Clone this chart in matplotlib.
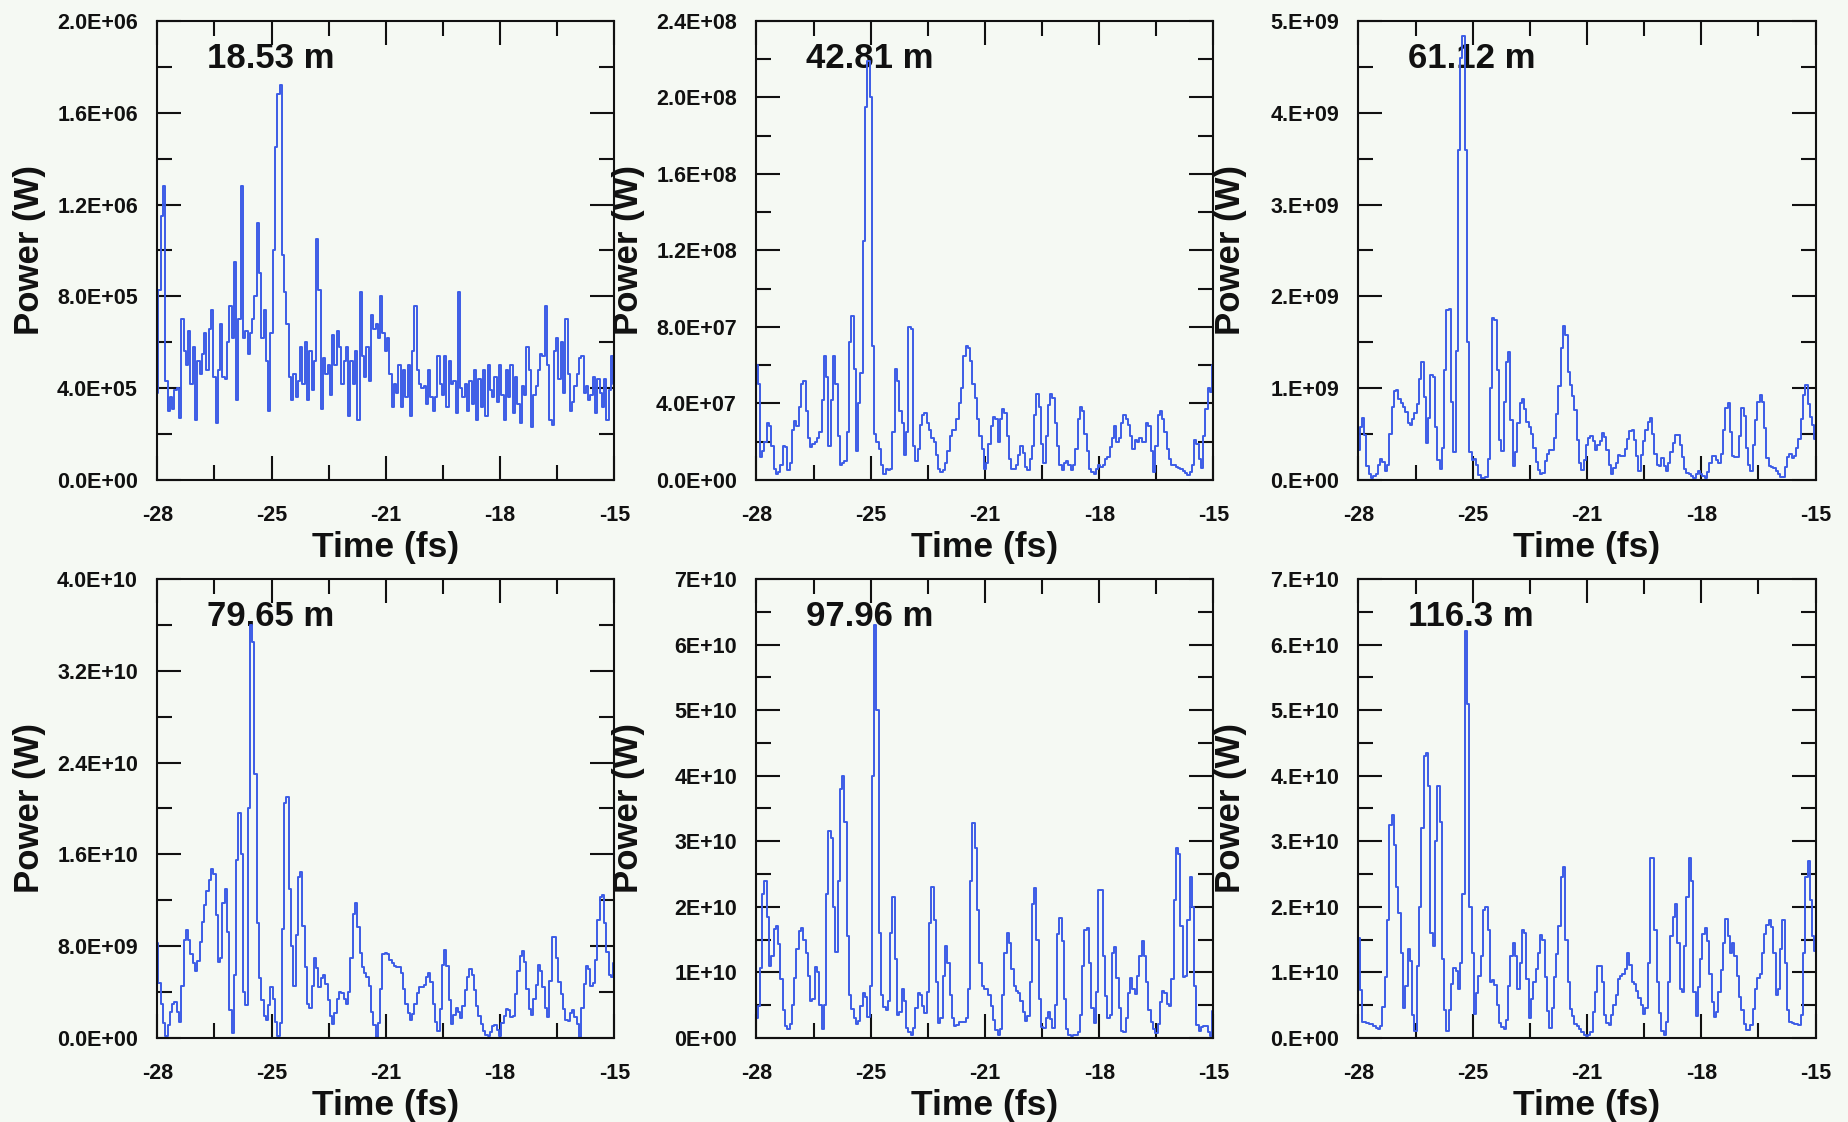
import numpy as np
import matplotlib
matplotlib.use("Agg")
import matplotlib.pyplot as plt

plt.rcParams['font.family'] = ['Liberation Sans', 'DejaVu Sans']
plt.rcParams['font.weight'] = 'bold'

bg = '#f5f9f3'
blue = '#3c5ce6'

# common time axis of the traces (fs)
t = np.linspace(-28, -15, 201)

# power traces (W), one per undulator distance
p_1853 = np.array([
    3.8, 8.3, 11.5, 12.8, 4.3, 3.0, 3.6, 3.1, 3.9, 4.0, 2.7, 7.0, 5.6,
    5.0, 6.5, 4.2, 5.8, 2.6, 5.2, 4.6, 5.5, 6.4, 4.8, 6.6, 7.4, 4.5, 2.5, 4.8, 6.8,
    4.5, 4.4, 6.0, 7.6, 6.2, 9.5, 3.5, 7.0, 12.8, 6.2, 6.5, 5.5, 6.4, 7.0, 8.0,
    11.2, 9.0, 6.2, 7.4, 5.2, 3.0, 6.4, 10.0, 14.5, 16.8, 17.2, 9.8, 8.2,
    6.8, 4.5, 3.5, 4.6, 3.6, 4.3, 5.8, 4.2, 6.0, 3.5, 5.6, 3.9, 5.2, 10.5, 8.3, 3.1, 5.3,
    4.6, 5.0, 3.7, 6.3, 5.0, 6.5, 5.8, 4.2, 5.2, 5.8, 2.8, 5.2, 4.2, 5.6, 2.6, 8.2,
    5.4, 4.5, 5.8, 4.3, 7.2, 6.6, 6.8, 6.2, 8.0, 6.4, 5.6, 6.2, 4.6,
    3.2, 4.2, 3.8, 5.0, 3.2, 4.8, 3.6, 5.0, 2.8, 5.6, 7.6, 4.8, 4.2, 4.0, 4.1, 3.3,
    4.8, 3.6, 3.0, 3.6, 5.4, 4.2, 3.7, 5.4, 3.2, 5.2, 4.2, 4.3, 2.9, 8.2, 4.0, 3.6, 4.2,
    3.0, 4.3, 3.3, 4.8, 2.6, 4.4, 3.2, 4.8, 2.8, 5.0, 3.9, 3.6, 4.5, 3.4, 5.0, 3.7,
    2.6, 4.8, 3.6, 5.0, 2.9, 4.5, 3.3, 2.5, 4.1, 3.7, 5.8, 4.8, 2.3, 3.7, 4.1, 4.8,
    5.5, 5.4, 7.6, 5.0,
    2.6, 2.4, 5.6, 6.2, 4.4, 6.0, 3.8, 7.0, 4.6, 3.0, 3.4, 4.1, 4.6, 5.3, 5.4, 3.8,
    4.1, 3.5, 3.7, 4.5, 2.9, 4.4, 3.8, 3.2, 4.4, 2.6, 3.9, 5.4, 4.2]) * 1e5

p_4281 = np.array([
    6.0, 5.0, 1.2, 1.5, 2.0, 3.0, 2.8, 1.8, 0.6, 0.3,
    0.4, 0.8, 1.8, 1.7, 0.5, 0.9, 2.6, 3.1, 2.8, 3.8,
    5.0, 5.2, 3.6, 2.2, 1.7, 1.9, 2.0, 2.2, 2.5, 4.2,
    6.5, 5.4, 1.8, 4.2, 6.5, 5.0, 2.3, 0.8, 0.9, 1.0,
    2.5, 7.2, 8.6, 5.8, 1.5, 4.0, 5.6, 12.5, 19.5, 21.9,
    20.0, 7.0, 2.4, 2.0, 1.6, 0.8, 0.3, 0.6, 0.5, 0.6,
    2.5, 5.8, 5.2, 3.6, 3.0, 1.3, 2.5, 8.0, 7.9, 1.8,
    1.0, 1.6, 2.9, 3.4, 3.5, 3.0, 2.6, 2.2, 2.0, 1.3,
    0.6, 0.4, 0.5, 0.9, 1.5, 2.3, 2.6, 2.6, 3.2, 4.0,
    4.8, 6.5, 7.0, 6.9, 6.2, 5.0, 4.3, 3.2, 2.3, 1.6,
    0.6, 0.9, 1.9, 2.8, 3.3, 3.2, 2.0, 3.2, 3.7, 3.5,
    2.3, 1.1, 0.6, 0.6, 0.8, 1.3, 1.8, 1.4, 0.7, 0.5,
    1.1, 1.8, 3.4, 4.5, 3.8, 1.9, 0.9, 2.3, 3.9, 4.5,
    4.3, 3.0, 1.8, 0.8, 0.5, 0.9, 1.0, 0.8, 0.5, 0.8,
    1.6, 3.2, 3.8, 3.6, 2.4, 1.5, 0.6, 0.4, 0.3, 0.6,
    0.8, 0.7, 0.8, 1.1, 1.2, 1.7, 2.2, 2.8, 2.0, 2.2,
    3.0, 3.4, 3.2, 2.9, 2.3, 1.6, 2.1, 2.0, 2.2, 2.0,
    2.0, 3.0, 2.8, 1.5, 0.4, 1.8, 3.4, 3.6, 3.2, 2.5,
    1.6, 1.1, 0.8, 0.8, 0.7, 0.65, 0.55, 0.45, 0.35, 0.28,
    0.4, 0.8, 2.1, 1.9, 1.1, 0.65, 2.3, 3.7, 4.8, 4.6,
    6.0]) * 1e7

p_6112 = np.array([
    3.3, 5.8, 6.7, 4.9, 1.5, 0.6, 0.2, 0.4, 0.7, 1.6,
    2.3, 2.0, 1.0, 1.6, 5.0, 7.9, 9.7, 9.8, 8.8, 8.4,
    8.0, 7.4, 6.2, 6.0, 6.6, 7.3, 8.3, 11.0, 12.8, 9.0,
    4.0, 6.8, 11.4, 11.2, 5.8, 2.2, 1.2, 3.5, 12.0, 18.5,
    18.6, 8.5, 3.0, 14.0, 36.0, 46.0, 48.4, 36.0, 15.0, 3.0,
    2.2, 2.3, 1.6, 0.5, 0.2, 0.2, 0.3, 2.3, 10.0, 17.6,
    17.4, 12.0, 4.4, 3.2, 8.5, 12.8, 13.9, 6.5, 1.5, 3.0,
    6.2, 8.4, 8.8, 7.7, 6.3, 5.8, 5.0, 3.5, 2.0, 1.1,
    0.6, 0.8, 2.1, 2.8, 3.3, 3.3, 4.6, 7.2, 10.2, 14.4,
    16.8, 15.8, 11.8, 10.4, 9.1, 7.6, 4.4, 1.8, 1.1, 2.2,
    3.8, 4.6, 4.8, 4.2, 3.3, 3.8, 4.2, 5.1, 4.7, 3.3,
    1.6, 0.6, 1.3, 1.9, 2.7, 2.6, 2.6, 3.4, 4.5, 5.3,
    5.5, 4.4, 2.6, 1.0, 2.7, 4.2, 5.4, 6.3, 6.8, 5.0,
    2.8, 1.6, 1.5, 2.4, 1.5, 1.0, 1.8, 3.0, 4.0, 4.9,
    4.9, 3.8, 2.5, 1.2, 0.8, 0.6, 0.4, 0.2, 0.6, 1.0,
    0.7, 0.4, 0.2, 0.9, 1.8, 2.6, 2.6, 2.2, 1.8, 2.8,
    5.5, 7.8, 8.4, 5.2, 2.6, 2.5, 2.5, 4.8, 7.8, 7.0,
    3.5, 1.6, 1.0, 3.8, 6.5, 8.5, 9.3, 8.5, 5.7, 2.4,
    1.5, 1.4, 1.3, 1.0, 0.6, 0.3, 0.3, 1.4, 2.5, 2.8,
    2.4, 2.6, 3.5, 4.5, 6.6, 9.3, 10.3, 8.3, 6.9, 6.0,
    4.5]) * 1e8

p_7965 = np.array([
    8.3, 4.8, 3.0, 1.3, 0.2, 1.1, 2.3, 3.0, 3.1, 2.3,
    1.4, 4.5, 8.5, 9.4, 8.5, 7.3, 6.5, 5.8, 6.7, 8.4,
    10.1, 11.6, 12.8, 13.8, 14.7, 14.3, 10.7, 6.6, 7.0, 11.8,
    13.0, 9.2, 2.4, 0.4, 5.5, 15.5, 19.6, 16.0, 4.0, 2.9,
    20.0, 36.0, 34.5, 23.0, 10.0, 5.2, 3.3, 1.9, 1.6, 2.9,
    4.4, 3.4, 1.4, 0.2, 1.3, 9.5, 20.5, 21.0, 13.0, 8.0,
    4.5, 9.0, 14.0, 14.5, 9.8, 6.2, 3.0, 2.6, 4.5, 7.0,
    6.1, 4.4, 5.2, 5.5, 4.7, 3.3, 1.9, 1.2, 2.2, 3.4,
    4.0, 3.9, 3.4, 3.0, 4.0, 7.0, 10.8, 11.8, 9.7, 7.4,
    6.2, 5.7, 5.3, 4.5, 2.3, 1.1, 0.1, 1.3, 4.3, 7.3,
    7.4,
    7.3, 6.8, 6.5, 6.3, 6.2, 6.2, 5.7, 4.3, 3.0, 2.2,
    1.6, 2.1, 3.0, 3.9, 4.4, 4.4, 4.6, 5.3, 5.7, 4.9,
    3.0, 1.4, 0.6, 2.5, 6.4, 7.7, 6.3, 3.3, 1.2, 2.0,
    2.6, 2.3, 1.7, 2.8, 4.2, 5.3, 6.0, 5.5, 4.2, 2.8,
    1.9, 1.2, 0.6, 0.3, 0.2, 0.5, 1.0, 1.1, 0.7, 0.2,
    1.3, 1.9, 2.5, 2.4, 1.8, 1.9, 3.8, 5.8, 7.1, 7.6,
    6.6, 4.3, 2.5, 2.0, 3.4, 4.6, 6.4, 5.8, 4.4, 2.6,
    1.8, 5.0, 8.8, 8.8, 7.0, 4.9, 3.8, 2.5, 1.6, 1.5,
    2.2, 2.4, 1.8, 1.2, 0.1, 2.6, 4.7, 6.3, 6.0, 4.5,
    4.8, 6.8, 10.3, 12.3, 12.5, 10.0, 7.5, 5.5, 5.3, 6.5]) * 1e9

p_9796 = np.array([
    3.1, 4.8, 10.7, 21.9, 23.9, 18.5, 11.0, 12.5, 16.6, 17.0,
    14.3, 9.0, 4.3, 1.8, 1.4, 2.2, 5.0, 9.2, 13.5, 16.3,
    16.8, 15.0, 12.9, 9.5, 5.7, 6.0, 10.8, 10.0, 5.0, 1.4,
    5.0, 22.0, 31.5, 30.5, 20.0, 13.1, 24.0, 38.0, 40.0, 33.0,
    15.5, 6.5, 4.4, 3.0, 2.2, 2.6, 4.8, 6.8, 6.3, 3.2,
    8.0, 40.0, 63.0, 50.0, 16.0, 6.5, 4.7, 4.2, 5.6, 16.0,
    21.5, 12.0, 3.5, 3.9, 7.4, 5.6, 1.5, 0.9, 0.5, 1.5,
    4.5, 6.9, 6.6, 4.9, 3.8, 7.0, 17.5, 23.0, 18.0, 8.5,
    2.3, 3.0, 9.5, 14.0, 11.5, 6.6, 3.1, 1.8, 2.0, 2.5,
    2.4, 2.4, 3.0, 7.5, 24.0, 32.8, 29.0, 19.5, 11.5, 8.0,
    7.4,
    7.4, 6.6, 4.9, 2.8, 1.2, 0.5, 1.4, 6.6, 13.0, 16.0,
    14.5, 10.5, 7.9, 7.2, 6.8, 5.6, 3.9, 2.6, 3.4, 8.5,
    20.5, 22.8, 15.0, 6.0, 1.7, 1.5, 3.0, 3.9, 2.9, 1.5,
    5.0, 15.8, 18.3, 14.8, 6.0, 1.3, 0.4, 0.3, 0.4, 0.5,
    0.9, 3.5, 11.0, 16.5, 16.8, 11.5, 4.6, 2.3, 7.0, 22.5,
    22.5, 12.5, 6.4, 3.1, 3.5, 13.0, 13.8, 9.2, 4.6, 1.0,
    0.9, 3.0, 6.8, 9.2, 7.5, 6.7, 9.5, 12.5, 14.8, 12.5,
    8.5, 4.3, 2.4, 1.3, 0.8, 2.1, 5.5, 7.2, 6.8, 5.2,
    4.9, 9.0, 21.0, 29.0, 28.0, 17.0, 9.3, 9.5, 18.0, 24.5,
    20.0, 8.0, 2.0, 1.0, 1.7, 1.9, 1.8, 0.9, 0.3, 4.1]) * 1e9

p_1163 = np.array([
    15.3, 7.3, 2.5, 2.4, 2.3, 2.1, 2.1, 1.8, 1.5, 1.3,
    1.9, 4.7, 9.3, 18.0, 32.5, 34.0, 29.5, 23.0, 19.0, 13.0,
    4.5, 8.0, 13.5, 11.8, 3.5, 1.0, 11.0, 20.0, 32.0, 43.0,
    43.5, 38.5, 16.0, 14.0, 30.0, 38.5, 33.0, 12.0, 4.2, 1.0,
    4.3, 8.3, 10.7, 10.2, 7.5, 11.5, 22.0, 62.0, 51.0, 20.0,
    13.0, 3.6, 6.8, 9.5, 12.5, 19.5, 20.0, 16.5, 8.5, 8.8,
    8.1, 5.0, 2.3, 1.6, 1.4, 2.8, 8.0, 12.5, 14.5, 12.5,
    7.5, 11.5, 16.5, 16.0, 9.0, 3.0, 6.0, 8.6, 10.5, 13.0,
    15.7, 15.0, 9.3, 4.1, 1.5, 4.6, 9.3, 12.8, 17.0, 24.5,
    26.0, 15.0, 8.5, 4.4, 3.3, 2.2, 1.8, 1.4, 0.9, 0.5,
    0.3,
    0.5, 0.9, 4.0, 7.0, 11.0, 11.0, 8.5, 3.5, 2.3, 2.0,
    3.5, 5.1, 6.6, 9.0, 9.5, 9.8, 10.5, 13.0, 11.2, 8.6,
    8.2, 7.1, 6.1, 5.1, 3.7, 4.5, 11.5, 27.5, 27.5, 16.5,
    8.5, 3.8, 1.1, 0.4, 2.5, 8.5, 15.5, 18.5, 20.5, 14.5,
    7.5, 7.0, 14.0, 21.5, 27.5, 24.0, 7.0, 3.3, 7.8, 12.0,
    15.8, 16.8, 14.8, 9.8, 5.5, 3.2, 4.0, 7.0, 10.3, 14.5,
    18.2, 15.6, 12.9, 14.5, 12.5, 9.5, 6.3, 4.2, 2.2, 1.2,
    1.2, 2.0, 4.4, 7.5, 9.2, 9.7, 13.0, 15.8, 17.3, 18.0,
    16.9, 13.0, 6.5, 7.5, 13.5, 18.0, 11.5, 4.3, 2.4, 2.3,
    2.2, 2.1, 2.0, 3.5, 13.0, 24.5, 27.0, 21.0, 15.5, 13.2]) * 1e9

distances = ['18.53 m', '42.81 m', '61.12 m', '79.65 m', '97.96 m', '116.3 m']
powers = [p_1853, p_4281, p_6112, p_7965, p_9796, p_1163]
y_max = [2.0e6, 2.4e8, 5.0e9, 4.0e10, 7.0e10, 7.0e10]
y_labels = [
    ['0.0E+00', '4.0E+05', '8.0E+05', '1.2E+06', '1.6E+06', '2.0E+06'],
    ['0.0E+00', '4.0E+07', '8.0E+07', '1.2E+08', '1.6E+08', '2.0E+08', '2.4E+08'],
    ['0.E+00', '1.E+09', '2.E+09', '3.E+09', '4.E+09', '5.E+09'],
    ['0.0E+00', '8.0E+09', '1.6E+10', '2.4E+10', '3.2E+10', '4.0E+10'],
    ['0E+00', '1E+10', '2E+10', '3E+10', '4E+10', '5E+10', '6E+10', '7E+10'],
    ['0.E+00', '1.E+10', '2.E+10', '3.E+10', '4.E+10', '5.E+10', '6.E+10', '7.E+10'],
]
x_labels = ['-28', '-25', '-21', '-18', '-15']

fig = plt.figure(figsize=(18.49, 11.22), dpi=100, facecolor=bg)

lefts = [0.0851, 0.4091, 0.7347]
bottoms = [0.5722, 0.0749]
w, h = 0.2472, 0.4091

for i in range(6):
    ax = fig.add_axes([lefts[i % 3], bottoms[i // 3], w, h], facecolor=bg)
    ax.plot(t, powers[i], color=blue, lw=1.4, drawstyle='steps-mid', zorder=2)

    ax.set_xlim(-28, -15)
    ax.set_ylim(0, y_max[i])
    ax.set_xticks(np.linspace(-28, -15, 5))
    ax.set_xticklabels(x_labels)
    ax.set_xticks(np.linspace(-28, -15, 9), minor=True)
    n = len(y_labels[i])
    ax.set_yticks(np.linspace(0, y_max[i], n))
    ax.set_yticklabels(y_labels[i])
    ax.set_yticks(np.linspace(0, y_max[i], 2 * n - 1), minor=True)

    ax.tick_params(which='both', direction='in', top=True, right=True,
                   width=1.5, color='#111111', labelcolor='#111111')
    ax.tick_params(which='major', length=17, labelsize=15.5)
    ax.tick_params(which='minor', length=11)
    ax.tick_params(axis='x', which='major', pad=18)
    ax.tick_params(axis='y', which='major', pad=14)
    for lbl in ax.get_xticklabels() + ax.get_yticklabels():
        lbl.set_fontweight('bold')
    for sp in ax.spines.values():
        sp.set_linewidth(1.5)
        sp.set_color('#111111')

    ax.set_xlabel('Time (fs)', fontsize=25.5, fontweight='bold', color='#111111')
    ax.xaxis.set_label_coords(0.5, -0.111)
    ax.set_ylabel('Power (W)', fontsize=25, fontweight='bold', color='#111111')
    ax.yaxis.set_label_coords(-0.244, 0.5)

    ax.text(0.108, 0.898, distances[i], transform=ax.transAxes, fontsize=25,
            fontweight='bold', color='#111111', va='baseline', zorder=1)

fig.savefig('out.png', dpi=100, facecolor=bg)
